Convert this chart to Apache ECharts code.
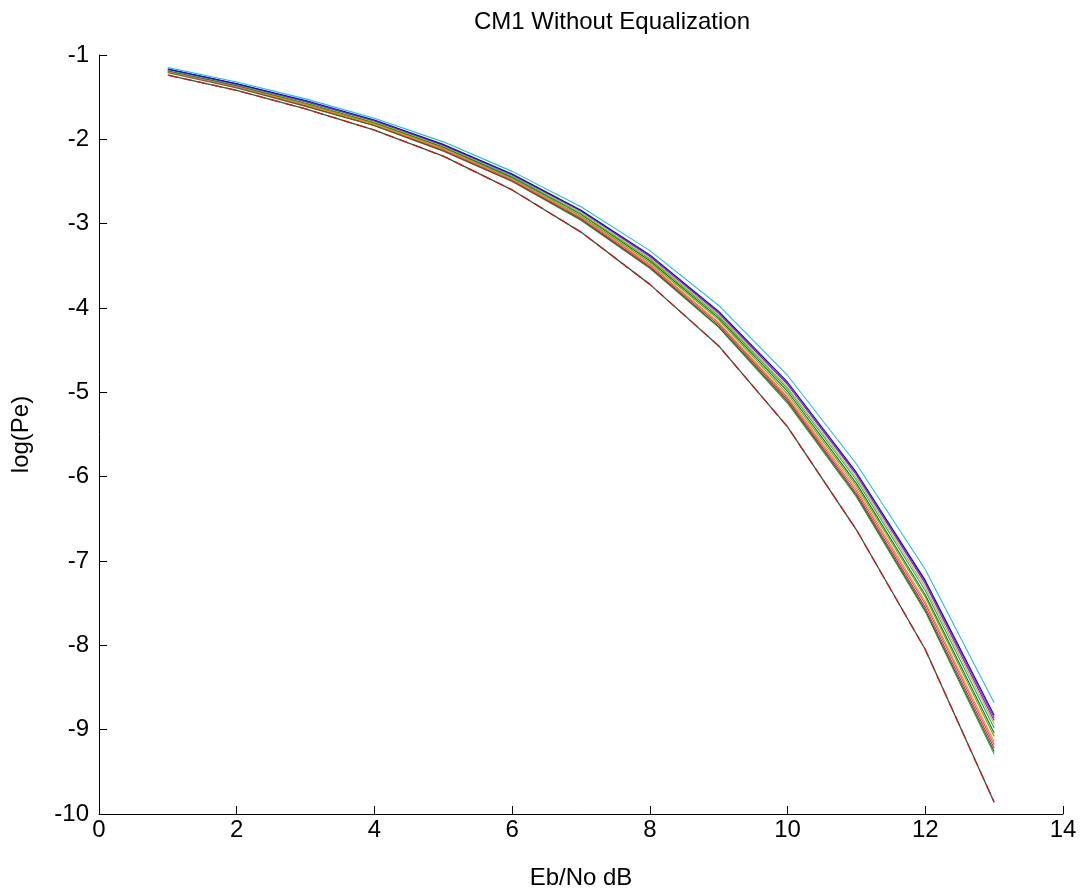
<!DOCTYPE html>
<html>
<head>
<meta charset="utf-8">
<script src="https://cdn.jsdelivr.net/npm/echarts@6/dist/echarts.min.js"></script>
<style>html,body{margin:0;padding:0;background:#fff}#c{width:1088px;height:896px}</style>
</head>
<body>
<div id="c"></div>
<script>
const ebno = [1,2,3,4,5,6,7,8,9,10,11,12,13];
const xTicks = [0,2,4,6,8,10,12,14];
const yTicks = [-10,-9,-8,-7,-6,-5,-4,-3,-2,-1];

const sCyan    = [-1.15,-1.32,-1.52,-1.75,-2.03,-2.38,-2.80,-3.32,-3.97,-4.80,-5.85,-7.10,-8.68];
const sBlue    = [-1.165,-1.34,-1.54,-1.77,-2.06,-2.41,-2.84,-3.37,-4.04,-4.88,-5.95,-7.23,-8.83];
const sPurple  = [-1.17,-1.34,-1.55,-1.78,-2.06,-2.42,-2.85,-3.38,-4.05,-4.90,-5.97,-7.25,-8.86];
const sMagenta = [-1.17,-1.345,-1.55,-1.78,-2.07,-2.42,-2.85,-3.39,-4.06,-4.91,-5.98,-7.27,-8.89];
const sYellow  = [-1.175,-1.35,-1.56,-1.79,-2.08,-2.43,-2.87,-3.41,-4.08,-4.94,-6.01,-7.31,-8.93];
const sTeal    = [-1.18,-1.355,-1.56,-1.79,-2.08,-2.44,-2.88,-3.42,-4.10,-4.96,-6.04,-7.35,-8.98];
const sDkGreen = [-1.185,-1.36,-1.57,-1.80,-2.09,-2.45,-2.89,-3.44,-4.12,-4.99,-6.08,-7.40,-9.04];
const sOlive   = [-1.19,-1.365,-1.58,-1.81,-2.10,-2.46,-2.91,-3.46,-4.14,-5.02,-6.11,-7.43,-9.08];
const sOrange  = [-1.195,-1.37,-1.59,-1.82,-2.11,-2.47,-2.92,-3.48,-4.17,-5.05,-6.14,-7.48,-9.14];
const sPink    = [-1.20,-1.38,-1.59,-1.82,-2.12,-2.48,-2.93,-3.49,-4.18,-5.07,-6.17,-7.51,-9.18];
const sRed     = [-1.20,-1.38,-1.60,-1.83,-2.13,-2.49,-2.94,-3.51,-4.20,-5.09,-6.20,-7.55,-9.22];
const sDkGreen2= [-1.205,-1.385,-1.605,-1.835,-2.135,-2.495,-2.95,-3.52,-4.22,-5.11,-6.22,-7.58,-9.26];
const sGreen   = [-1.21,-1.39,-1.61,-1.84,-2.14,-2.50,-2.96,-3.53,-4.23,-5.13,-6.24,-7.60,-9.29];
const sIdealA  = [-1.24,-1.42,-1.64,-1.89,-2.20,-2.60,-3.10,-3.72,-4.45,-5.41,-6.63,-8.05,-9.86];
const sIdealB  = [-1.24,-1.42,-1.64,-1.89,-2.20,-2.60,-3.10,-3.72,-4.45,-5.41,-6.63,-8.05,-9.86];

const bundle = [
  [sGreen,'#2ca02c'],[sDkGreen2,'#1f6b2a'],[sRed,'#e0203a'],[sPink,'#ff3399'],
  [sOrange,'#d9a400'],[sOlive,'#7fa020'],[sDkGreen,'#007f00'],[sTeal,'#1f9f8f'],
  [sYellow,'#bfbf00'],[sMagenta,'#bf00bf'],[sPurple,'#7a3cc8'],[sBlue,'#0000ff'],
  [sCyan,'#20c0c8']
];

const pairs = arr => ebno.map((x,i)=>[x,arr[i]]);
const series = bundle.map(([arr,color]) => ({
  type:'line', data: pairs(arr), showSymbol:false, silent:true,
  lineStyle:{color, width:1.1}, itemStyle:{color}
}));
series.push({type:'line', data: pairs(sIdealA), showSymbol:false, silent:true,
  lineStyle:{color:'#1f5f3f', width:1.3}});
series.push({type:'line', data: pairs(sIdealB), showSymbol:false, silent:true,
  lineStyle:{color:'#d01818', width:1.3, type:[10,5]}});

const font = 'Liberation Sans, Arial, sans-serif';
const chart = echarts.init(document.getElementById('c'), null, {renderer:'canvas'});
chart.setOption({
  animation:false,
  backgroundColor:'#fff',
  title:{text:'CM1 Without Equalization', left:607, textAlign:'center', top:5,
    textStyle:{fontFamily:font, fontSize:24, fontWeight:'normal', color:'#000'}},
  grid:{left:99, right:25, top:55, bottom:82, containLabel:false},
  xAxis:{type:'value', min:xTicks[0], max:xTicks[xTicks.length-1], interval:2,
    name:'Eb/No dB', nameLocation:'middle', nameGap:52,
    nameTextStyle:{fontFamily:font, fontSize:24, color:'#000'},
    axisLine:{show:true, onZero:false, lineStyle:{color:'#000', width:1}},
    axisTick:{show:true, inside:true, length:8, lineStyle:{color:'#000'}},
    axisLabel:{fontFamily:font, fontSize:24, color:'#000', margin:4},
    splitLine:{show:false}},
  yAxis:{type:'value', min:yTicks[0], max:yTicks[yTicks.length-1], interval:1,
    name:'log(Pe)', nameLocation:'middle', nameGap:66,
    nameTextStyle:{fontFamily:font, fontSize:24, color:'#000'},
    axisLine:{show:true, onZero:false, lineStyle:{color:'#000', width:1}},
    axisTick:{show:true, inside:true, length:8, lineStyle:{color:'#000'}},
    axisLabel:{fontFamily:font, fontSize:24, color:'#000', margin:10},
    splitLine:{show:false}},
  series
});
</script>
</body>
</html>
